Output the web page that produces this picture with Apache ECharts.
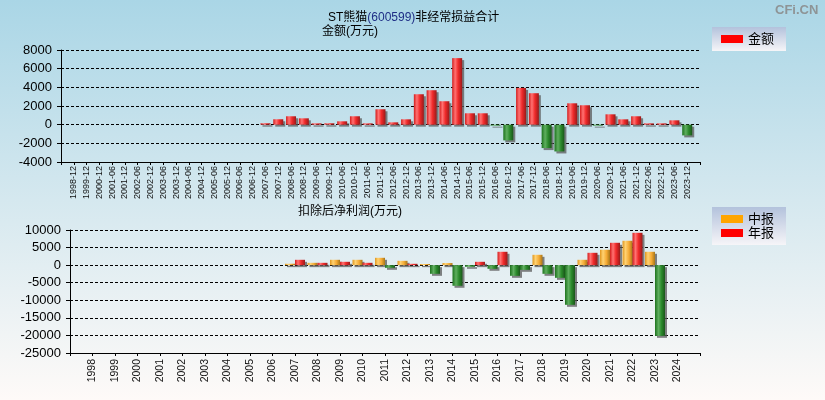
<!DOCTYPE html>
<html>
<head>
<meta charset="utf-8">
<script src="https://cdn.jsdelivr.net/npm/echarts@6/dist/echarts.min.js"></script>
<style>html,body{margin:0;padding:0;}#c{width:825px;height:400px;}</style>
</head>
<body>
<div id="c"></div>
<script>
// ---- Data ----
const topCategories = ['1998-12','1999-12','2000-12','2001-06','2001-12','2002-06','2002-12','2003-06','2003-12','2004-06','2004-12','2005-06','2005-12','2006-06','2006-12','2007-06','2007-12','2008-06','2008-12','2009-06','2009-12','2010-06','2010-12','2011-06','2011-12','2012-06','2012-12','2013-06','2013-12','2014-06','2014-12','2015-06','2015-12','2016-06','2016-12','2017-06','2017-12','2018-06','2018-12','2019-06','2019-12','2020-06','2020-12','2021-06','2021-12','2022-06','2022-12','2023-06','2023-12'];
const amountValues = [null,null,null,null,null,null,null,null,null,null,null,null,null,null,null,150,580,900,680,140,150,360,900,140,1650,250,573,3260,3690,2510,7130,1220,1220,-100,-1680,3940,3370,-2510,-2870,2290,2080,-100,1110,573,900,140,140,466,-1150];
const yearCategories = ['1998','1999','2000','2001','2002','2003','2004','2005','2006','2007','2008','2009','2010','2011','2012','2013','2014','2015','2016','2017','2018','2019','2020','2021','2022','2023','2024'];
const midValues = [null,null,null,null,null,null,null,null,null,400,660,1520,1520,2090,1230,330,600,-470,-1040,-3040,2940,-3610,1520,4370,6930,3800,null];
const annualValues = [null,null,null,null,null,null,null,null,null,1520,660,950,660,-760,380,-2470,-5880,950,3800,-1330,-2470,-11290,3510,6360,9200,-20120,null];
const topTicks = {min:-4000, max:8000, interval:2000};
const bottomTicks = {min:-25000, max:10000, interval:5000};

// ---- Helpers ----
function pad(arr, fill){ return [fill].concat(arr, [fill]); }
function grad(stops){
  return new echarts.graphic.LinearGradient(0,0,1,0, stops.map(s=>({offset:s[0], color:s[1]})));
}
const RED = grad([[0,'#d41c1c'],[0.3,'#ff7272'],[0.6,'#f02a2a'],[1,'#9a1a1a']]);
const GREEN = grad([[0,'#1d731d'],[0.35,'#5fae5f'],[0.65,'#2b8a2b'],[1,'#1a561a']]);
const ORANGE = grad([[0,'#e0961e'],[0.3,'#ffd272'],[0.65,'#f4aa34'],[1,'#a87618']]);
function colorFn(pos){ return p => (p.value < 0 ? GREEN : pos); }
const FONT = 'Liberation Sans, Arial, Noto Sans CJK SC, sans-serif';
const shadow = {shadowColor:'rgba(90,90,90,0.75)', shadowOffsetX:2, shadowOffsetY:2, shadowBlur:0};
const legendBg = {type:'linear', x:0, y:0, x2:0, y2:1, colorStops:[{offset:0,color:'#b3c2dc'},{offset:1,color:'#f6f5f8'}]};

function yAxisCfg(grid, t){
  return {
    type:'value', gridIndex:grid, min:t.min, max:t.max, interval:t.interval,
    axisLine:{show:true, lineStyle:{color:'#000', width:1}},
    axisTick:{show:true, length:4, lineStyle:{color:'#000'}},
    axisLabel:{color:'#000', fontSize:13, fontFamily:FONT, margin:9, formatter: v => String(v)},
    splitLine:{show:true, lineStyle:{color:'#000', type:[3,2], width:1}}
  };
}
function xAxisCfg(grid, cats, fs, margin){
  return {
    type:'category', gridIndex:grid, data:pad(cats,''), boundaryGap:false,
    axisLine:{onZero:false, lineStyle:{color:'#000', width:1}},
    axisTick:{show:true, interval:0, length:3, lineStyle:{color:'#000'}},
    axisLabel:{interval:0, rotate:90, fontSize:fs, color:'#111', fontFamily:FONT, margin:margin},
    splitLine:{show:false}
  };
}

const chart = echarts.init(document.getElementById('c'), null, {renderer:'canvas'});
chart.setOption({
  animation:false,
  backgroundColor:{type:'linear', x:0, y:0, x2:0, y2:1, colorStops:[{offset:0,color:'#aad6e6'},{offset:0.5,color:'#d5e8ef'},{offset:1,color:'#fefaf8'}]},
  title:[
    {text:'{a|ST熊猫}{b|(600599)}{a|非经常损益合计}', left:328, top:12, padding:0,
     textStyle:{fontSize:12, fontWeight:'normal', fontFamily:FONT, rich:{a:{fontSize:12, color:'#000', fontFamily:FONT}, b:{fontSize:12, color:'#1f2f86', fontFamily:FONT}}}},
    {text:'金额(万元)', left:322, top:26, padding:0, textStyle:{fontSize:12, fontWeight:'normal', color:'#000', fontFamily:FONT}},
    {text:'扣除后净利润(万元)', left:298, top:206, padding:0, textStyle:{fontSize:12, fontWeight:'normal', color:'#000', fontFamily:FONT}},
    {text:'CFi.CN', left:775, top:4, padding:0, textStyle:{fontSize:13, fontWeight:'bold', color:'#8e9496', fontFamily:FONT}}
  ],
  legend:[
    {data:[{name:'金额', itemStyle:{color:'#ff0000'}}], left:712, top:27, orient:'horizontal',
     padding:[5,12,5,9], itemWidth:22, itemHeight:8, itemGap:0, icon:'rect', selectedMode:false,
     backgroundColor:legendBg, textStyle:{fontSize:13, color:'#000', fontFamily:FONT, lineHeight:14}},
    {data:[{name:'中报', itemStyle:{color:'#ffa500'}},{name:'年报', itemStyle:{color:'#ff0000'}}], left:712, top:207, orient:'vertical',
     padding:[5,12,5,9], itemGap:0, itemWidth:22, itemHeight:8, icon:'rect', selectedMode:false,
     backgroundColor:legendBg, textStyle:{fontSize:13, color:'#000', fontFamily:FONT, lineHeight:14}}
  ],
  grid:[
    {left:61, right:125, top:50, height:112},
    {left:70, right:125, top:230, height:123}
  ],
  xAxis:[ xAxisCfg(0, topCategories, 9, 4), xAxisCfg(1, yearCategories, 10.5, 6) ],
  yAxis:[ yAxisCfg(0, topTicks), yAxisCfg(1, bottomTicks) ],
  series:[
    {type:'bar', name:'金额', xAxisIndex:0, yAxisIndex:0, barWidth:10, data:pad(amountValues,null),
     itemStyle:Object.assign({color:colorFn(RED)}, shadow)},
    {type:'bar', name:'中报', xAxisIndex:1, yAxisIndex:1, barWidth:10, barGap:'0%', data:pad(midValues,null),
     itemStyle:Object.assign({color:colorFn(ORANGE)}, shadow)},
    {type:'bar', name:'年报', xAxisIndex:1, yAxisIndex:1, barWidth:10, barGap:'0%', data:pad(annualValues,null),
     itemStyle:Object.assign({color:colorFn(RED)}, shadow)}
  ]
});
</script>
</body>
</html>
